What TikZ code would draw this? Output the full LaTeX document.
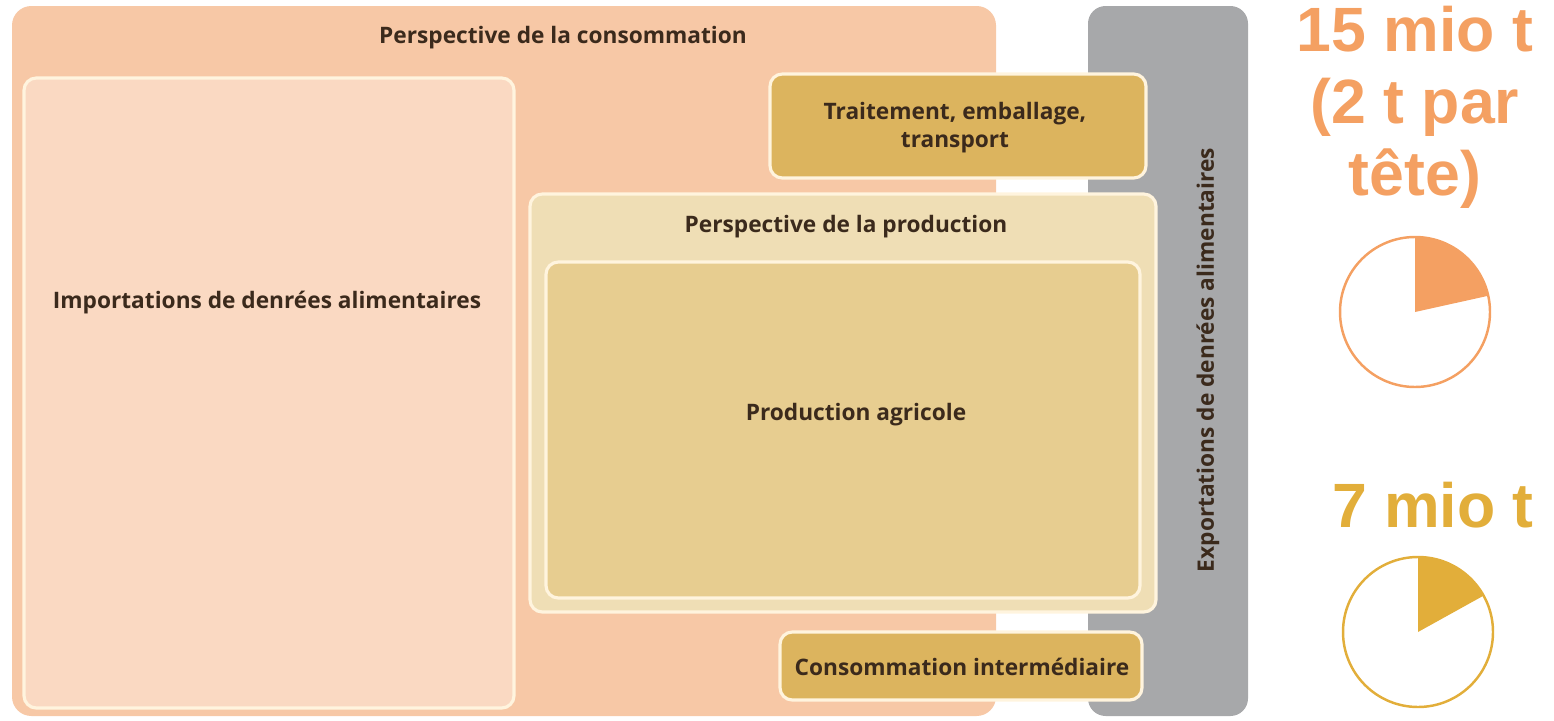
\documentclass[tikz,border=0pt]{standalone}
\usepackage{fontspec}
\setmainfont{Open Sans}
\newfontfamily\numfont{Liberation Sans}
\usepackage{xcolor}
\definecolor{consobg}{HTML}{F7C8A6}
\definecolor{importbg}{HTML}{FAD9C2}
\definecolor{exportbg}{HTML}{A7A8AA}
\definecolor{prodpersp}{HTML}{EFDEB5}
\definecolor{prodagri}{HTML}{E7CD90}
\definecolor{traitbg}{HTML}{DCB45E}
\definecolor{rimcol}{HTML}{FFF4DE}
\definecolor{labelcol}{HTML}{3B2A1C}
\definecolor{consoorange}{HTML}{F4A062}
\definecolor{prodgold}{HTML}{E2AE3A}

\tikzset{
  box/.style={rounded corners=3.5pt, draw=rimcol, line width=0.9pt},
  boxlabel/.style={text=labelcol, font=\fontsize{6.45}{8}\selectfont\bfseries, align=center},
  bignum/.style={font=\numfont\fontsize{17.8}{20.5}\selectfont\bfseries, align=center}
}

\begin{document}
\begin{tikzpicture}[x=0.01cm, y=-0.01cm]
        \useasboundingbox (0,0) rectangle (1554,721);

        % background blocks
        \fill[consobg, rounded corners=5.5pt](12, 6) rectangle (996, 716);
        \fill[exportbg, rounded corners=5pt](1088, 6) rectangle (1248, 716);
        \filldraw[box, fill=importbg](24, 78) rectangle (514, 708);
        \filldraw[box, fill=prodpersp](530, 194) rectangle (1156, 612);
        \filldraw[box, fill=prodagri](546, 262) rectangle (1140, 598);
        \filldraw[box, fill=traitbg](770, 74) rectangle (1146, 178);
        \filldraw[box, fill=traitbg](780, 632) rectangle (1142, 700);

        % labels
        \node[boxlabel] (conso) at (563, 38) {Perspective de la consommation};
        \node[boxlabel] (import) at (267, 303) {Importations de denrées alimentaires};
        \node[boxlabel] (trait) at (955, 128) {Traitement, emballage,\\transport};
        \node[boxlabel] (prod) at (846, 227) {Perspective de la production};
        \node[boxlabel] (agri) at (856, 415) {Production agricole};
        \node[boxlabel] (inter) at (962, 667) {Consommation intermédiaire};
        \node[boxlabel, rotate=90] (export) at (1208, 360) {Exportations de denrées alimentaires};

        % totals
        \node[bignum, text=consoorange] (constot) at (1415, 107) {15 mio t\\(2 t par\\tête)};
        \node[bignum, text=prodgold] (prodtot) at (1433, 505) {7 mio t};

        \coordinate (conspie) at (1415, 312);
        \coordinate (prodpie) at (1418, 632);
        \fill[consoorange] (conspie) -- ++(-12.5:75) arc (-12.5:-90:75) -- cycle;
        \draw[consoorange, line width=0.7pt] (conspie) circle[radius=75];
        \fill[prodgold] (prodpie) -- ++(-29:75) arc (-29:-90:75) -- cycle;
        \draw[prodgold, line width=0.7pt] (prodpie) circle[radius=75];
\end{tikzpicture}
\end{document}
